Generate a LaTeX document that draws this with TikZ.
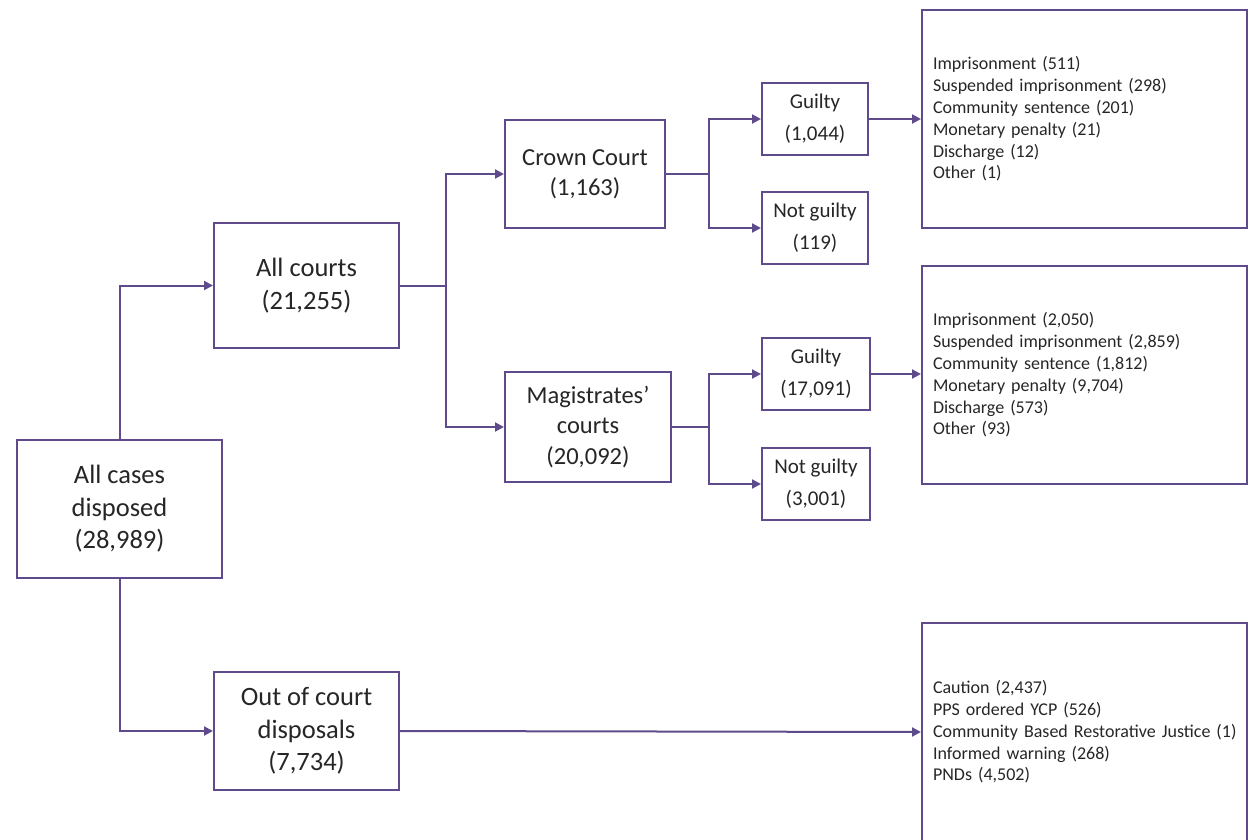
\documentclass[tikz,border=0pt]{standalone}
\usepackage{fontspec}
\setmainfont{Carlito}
\usetikzlibrary{positioning,arrows.meta}
\definecolor{lilac}{HTML}{5F4B8B}
\begin{document}
\begin{tikzpicture}[x=1pt,y=-1pt,
    box/.style={draw=lilac,line width=2pt,fill=white,align=center,inner sep=0pt,text=black!85,font=\fontsize{26.5}{32.5}\selectfont},
    midbox/.style={box,font=\fontsize{24.5}{30.5}\selectfont},
    smallbox/.style={box,minimum width=106pt,minimum height=72pt,font=\fontsize{21}{32}\selectfont},
    listbox/.style={draw=lilac,line width=2pt,minimum width=325pt,minimum height=218pt,text width=303pt,align=left,inner xsep=11pt,text=black!85,font=\fontsize{18}{21.8}\selectfont},
    link/.style={lilac,line width=2pt,-{Triangle[length=9pt,width=9pt]}}]
  \useasboundingbox (0,0) rectangle (1258,840);
  \node[box,minimum width=205pt,minimum height=138pt] (cases) at (119.5,509) {All cases\\disposed\\(28,989)};
  \node[box,minimum width=185pt,minimum height=125pt] (allc) at (306.5,285.5) {All courts\\(21,255)};
  \node[box,minimum width=185pt,minimum height=118pt] (ooc) at (306.5,731) {Out of court\\disposals\\(7,734)};
  \node[midbox,minimum width=160pt,minimum height=108pt] (crown) at (585,174) {Crown Court\\(1,163)};
  \node[midbox,minimum width=166pt,minimum height=110pt] (mag) at (588,427) {Magistrates’\\courts\\(20,092)};
  \node[smallbox] (g1) at (815,119) {Guilty\\(1,044)};
  \node[smallbox] (ng1) at (815,228) {Not guilty\\(119)};
  \node[smallbox,minimum width=108pt] (g2) at (816,374) {Guilty\\(17,091)};
  \node[smallbox,minimum width=108pt] (ng2) at (816,484) {Not guilty\\(3,001)};
  \node[listbox] (r1) at (1084.5,119) {Imprisonment (511)\\Suspended imprisonment (298)\\Community sentence (201)\\Monetary penalty (21)\\Discharge (12)\\Other (1)};
  \node[listbox] (r2) at (1084.5,375) {Imprisonment (2,050)\\Suspended imprisonment (2,859)\\Community sentence (1,812)\\Monetary penalty (9,704)\\Discharge (573)\\Other (93)};
  \node[listbox] (r3) at (1084.5,732) {Caution (2,437)\\PPS ordered YCP (526)\\\mbox{Community Based Restorative Justice (1)}\\Informed warning (268)\\PNDs (4,502)};
  % connectors
  \draw[link] (cases.north) |- (allc.west);
  \draw[link] (cases.south) |- (ooc.west);
  \foreach \a/\b in {crown/allc,mag/allc}
    \draw[link] (\b.east) -- ++(46,0) |- (\a.west);
  \foreach \a in {g1,ng1}
    \draw[link] (crown.east) -- ++(43,0) |- (\a.west);
  \foreach \a in {g2,ng2}
    \draw[link] (mag.east) -- ++(37,0) |- (\a.west);
  \draw[link] (g1.east) -- (r1.west);
  \draw[link] (g2.east) -- (g2.east -| r2.west);
  \draw[link] (ooc.east) -- (r3.west);
\end{tikzpicture}
\end{document}
